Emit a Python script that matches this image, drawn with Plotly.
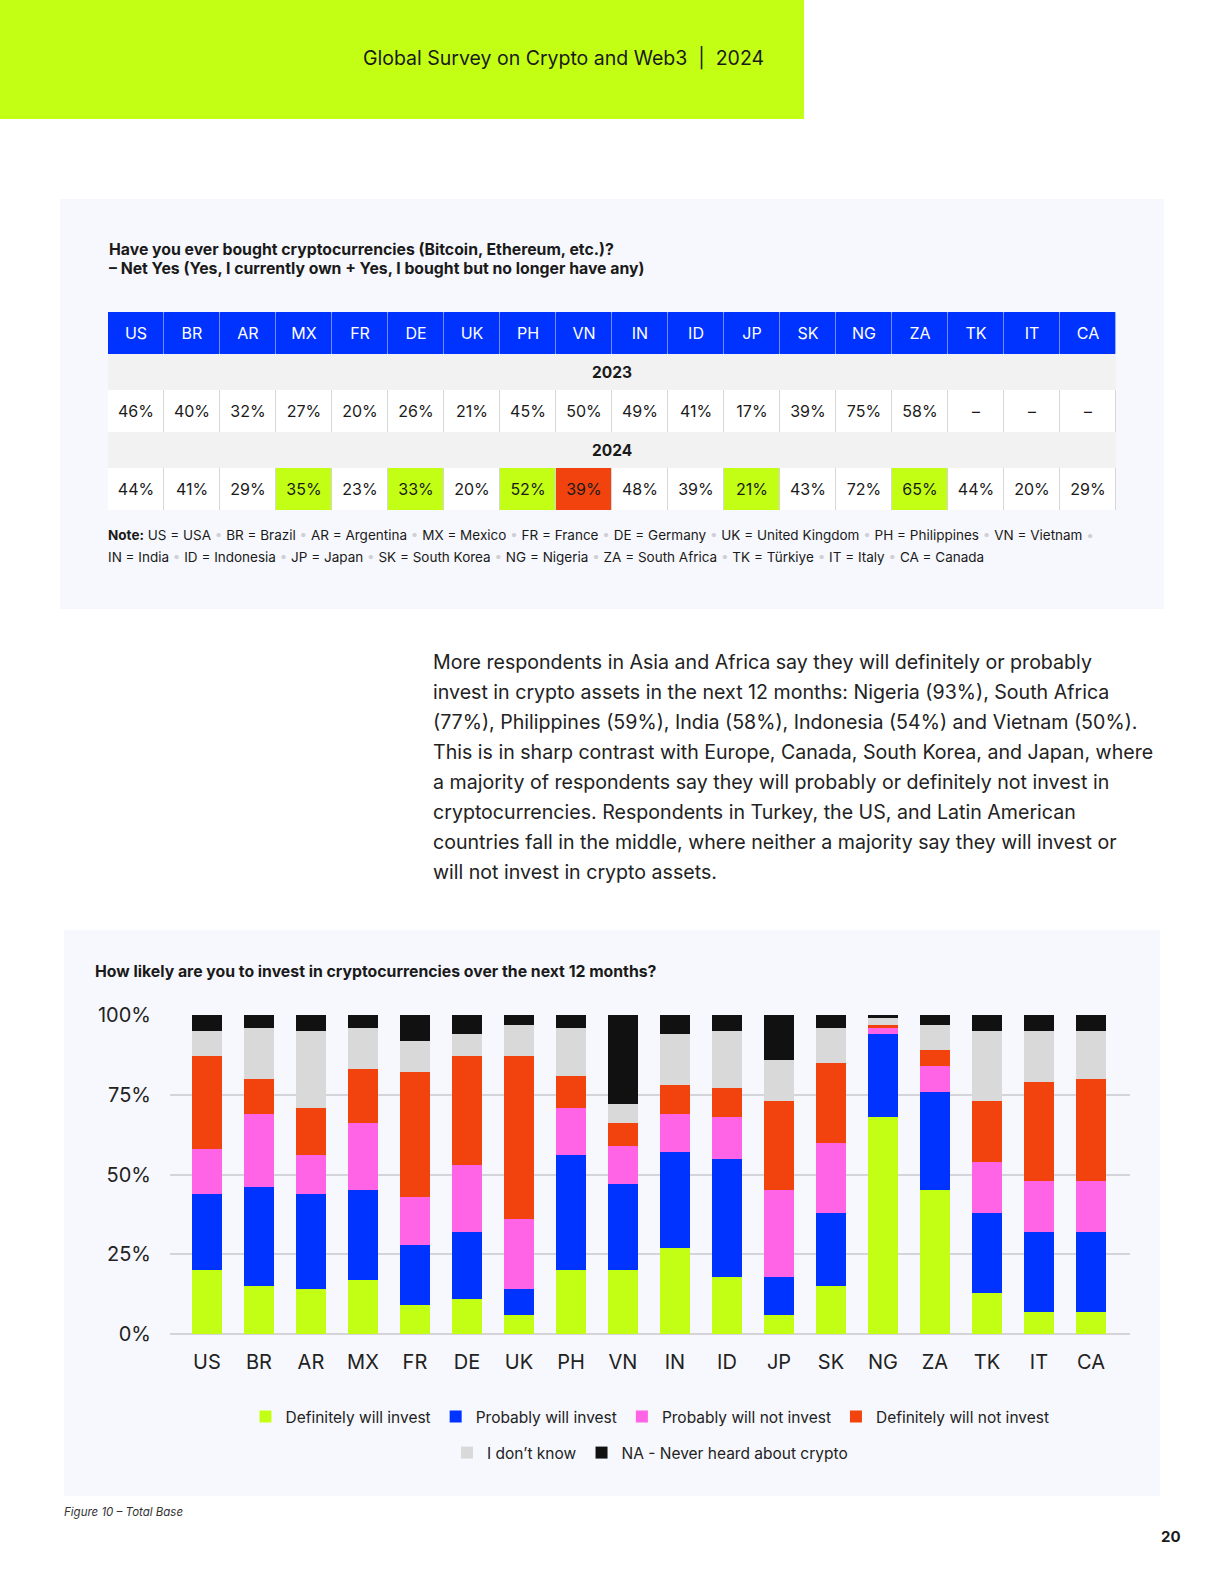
import plotly.graph_objects as go

# ─── DATA ─────────────────────────────────────────────
countries = ["US", "BR", "AR", "MX", "FR", "DE", "UK", "PH", "VN",
             "IN", "ID", "JP", "SK", "NG", "ZA", "TK", "IT", "CA"]

# Net Yes: ever bought crypto (%)
net_yes_2023 = [46, 40, 32, 27, 20, 26, 21, 45, 50, 49, 41, 17, 39, 75, 58, None, None, None]
net_yes_2024 = [44, 41, 29, 35, 23, 33, 20, 52, 39, 48, 39, 21, 43, 72, 65, 44, 20, 29]
# significant change vs 2023: 1 = up, -1 = down, 0 = none
change_2024 = [0, 0, 0, 1, 0, 1, 0, 1, -1, 0, 0, 1, 0, 0, 1, 0, 0, 0]

# likelihood to invest in next 12 months (%)
definitely_invest = [20, 15, 14, 17, 9, 11, 6, 20, 20, 27, 18, 6, 15, 68, 45, 13, 7, 7]
probably_invest = [24, 31, 30, 28, 19, 21, 8, 36, 27, 30, 37, 12, 23, 26, 31, 25, 25, 25]
probably_not = [14, 23, 12, 21, 15, 21, 22, 15, 12, 12, 13, 27, 22, 2, 8, 16, 16, 16]
definitely_not = [29, 11, 15, 17, 39, 34, 51, 10, 7, 9, 9, 28, 25, 1, 5, 19, 31, 32]
dont_know = [8, 16, 24, 13, 10, 7, 10, 15, 6, 16, 18, 13, 11, 2, 8, 22, 16, 15]
never_heard = [5, 4, 5, 4, 8, 6, 3, 4, 28, 6, 5, 14, 4, 1, 3, 5, 5, 5]

series_names = ["Definitely will invest", "Probably will invest", "Probably will not invest",
                "Definitely will not invest", "I don’t know", "NA - Never heard about crypto"]

y_ticks = [0, 25, 50, 75, 100]

country_names = ["US = USA", "BR = Brazil", "AR = Argentina", "MX = Mexico", "FR = France",
                 "DE = Germany", "UK = United Kingdom", "PH = Philippines", "VN = Vietnam",
                 "IN = India", "ID = Indonesia", "JP = Japan", "SK = South Korea", "NG = Nigeria",
                 "ZA = South Africa", "TK = Türkiye", "IT = Italy", "CA = Canada"]

paragraph = [
    "More respondents in Asia and Africa say they will definitely or probably",
    "invest in crypto assets in the next 12 months: Nigeria (93%), South Africa",
    "(77%), Philippines (59%), India (58%), Indonesia (54%) and Vietnam (50%).",
    "This is in sharp contrast with Europe, Canada, South Korea, and Japan, where",
    "a majority of respondents say they will probably or definitely not invest in",
    "cryptocurrencies. Respondents in Turkey, the US, and Latin American",
    "countries fall in the middle, where neither a majority say they will invest or",
    "will not invest in crypto assets.",
]

# ─── STYLE ────────────────────────────────────────────
W, H = 1224, 1584
FONT = "Inter"
INK = "#1a1a1a"
LIME = "#c3ff14"
BLUE = "#0033ff"
PINK = "#ff63e6"
ORANGE = "#f2430f"
LGRAY = "#d9d9d9"
BLACK = "#111111"
PANEL = "#f7f8fd"
SERIES_COLORS = [LIME, BLUE, PINK, ORANGE, LGRAY, BLACK]


def px(x):
    return x / W


def py(y):
    return 1 - y / H


fig = go.Figure()

# ─── TABLE (heatmaps on x2/y2) ────────────────────────
# rows top-down: header, 2023 label, 2023 values, 2024 label, 2024 values
fig.add_trace(go.Heatmap(
    x=list(range(len(countries))), y=[0, 42], z=[[0] * len(countries)],
    colorscale=[[0, BLUE], [1, BLUE]], showscale=False, xgap=1,
    text=[countries], texttemplate="%{text}",
    textfont=dict(family=FONT, size=16, color="white"),
    hoverinfo="skip", xaxis="x2", yaxis="y2",
))
fig.add_trace(go.Heatmap(
    x=[-0.5, len(countries) - 0.5], y=[42, 78, 120, 156], z=[[1], [None], [1]],
    colorscale=[[0, "#f2f2f2"], [1, "#f2f2f2"]], showscale=False,
    hoverinfo="skip", xaxis="x2", yaxis="y2",
))
fig.add_trace(go.Heatmap(
    x=list(range(len(countries))), y=[78, 120], z=[[0] * len(countries)],
    colorscale=[[0, "white"], [1, "white"]], showscale=False, xgap=1,
    text=[[f"{v}%" if v is not None else "–" for v in net_yes_2023]],
    texttemplate="%{text}", textfont=dict(family=FONT, size=16, color=INK),
    hoverinfo="skip", xaxis="x2", yaxis="y2",
))
fig.add_trace(go.Heatmap(
    x=list(range(len(countries))), y=[156, 198], z=[change_2024],
    zmin=-1, zmax=1,
    colorscale=[[0, ORANGE], [0.333, ORANGE], [0.333, "white"], [0.667, "white"],
                [0.667, LIME], [1, LIME]],
    showscale=False, xgap=1,
    text=[[f"{v}%" for v in net_yes_2024]],
    texttemplate="%{text}", textfont=dict(family=FONT, size=16, color=INK),
    hoverinfo="skip", xaxis="x2", yaxis="y2",
))

# ─── STACKED BARS ─────────────────────────────────────
series = [definitely_invest, probably_invest, probably_not, definitely_not, dont_know, never_heard]
for i, (name, vals, col) in enumerate(zip(series_names, series, SERIES_COLORS)):
    fig.add_trace(go.Bar(
        x=countries, y=vals, name=name, marker=dict(color=col, line=dict(width=0)),
        legend="legend" if i < 4 else "legend2", hoverinfo="x+y+name",
    ))

# ─── SHAPES ───────────────────────────────────────────
shapes = [
    dict(type="rect", xref="paper", yref="paper", x0=px(0), x1=px(804), y0=py(119), y1=py(0),
         fillcolor=LIME, line_width=0, layer="below"),
    dict(type="rect", xref="paper", yref="paper", x0=px(60), x1=px(1164), y0=py(609), y1=py(199),
         fillcolor=PANEL, line_width=0, layer="below"),
    dict(type="rect", xref="paper", yref="paper", x0=px(64), x1=px(1160), y0=py(1496), y1=py(930),
         fillcolor=PANEL, line_width=0, layer="below"),
    # table grid backgrounds (show through heatmap gaps)
    dict(type="rect", xref="x2", yref="y2", x0=-0.5, x1=17.5, y0=42, y1=198,
         fillcolor="#d6d6d6", line=dict(color="#d6d6d6", width=1), layer="below"),
    dict(type="rect", xref="x2", yref="y2", x0=-0.5, x1=17.5, y0=0, y1=42,
         fillcolor="#6f8bff", line=dict(color="#c9d3ff", width=1), layer="below"),
]

# ─── TEXT ─────────────────────────────────────────────
dot = "<span style='color:#cfcfd4'> • </span>"
notes1 = "<b>Note:</b> " + dot.join(country_names[:9]) + dot
notes2 = dot.join(country_names[9:])


def txt(x, y, s, size, bold=False, color=INK, anchor="left", italic=False):
    if bold:
        s = f"<b>{s}</b>"
    if italic:
        s = f"<i>{s}</i>"
    return dict(xref="paper", yref="paper", x=px(x), y=py(y), text=s, showarrow=False,
                xanchor=anchor, yanchor="middle", align=anchor,
                font=dict(family=FONT, size=size, color=color))


annotations = [
    txt(766, 58, "Global Survey on Crypto and Web3 &nbsp;|&nbsp; 2024", 19.5, anchor="right"),
    txt(107, 249, "Have you ever bought cryptocurrencies (Bitcoin, Ethereum, etc.)?", 15.8, bold=True),
    txt(107, 269, "– Net Yes (Yes, I currently own + Yes, I bought but no longer have any)", 15.8, bold=True),
    dict(xref="x2", yref="y2", x=8.5, y=60, text="<b>2023</b>", showarrow=False,
         font=dict(family=FONT, size=15.5, color=INK)),
    dict(xref="x2", yref="y2", x=8.5, y=138, text="<b>2024</b>", showarrow=False,
         font=dict(family=FONT, size=15.5, color=INK)),
    txt(106, 535, notes1, 13.5),
    txt(106, 557, notes2, 13.5),
    txt(93, 971, "How likely are you to invest in cryptocurrencies over the next 12 months?", 15.8, bold=True),
    txt(62, 1512, "Figure 10 – Total Base", 11.5, italic=True, color="#333333"),
    txt(1183, 1536, "20", 15, bold=True, anchor="right"),
]
for k, line in enumerate(paragraph):
    annotations.append(txt(431, 662 + 30 * k, line, 19.6, color="#222222"))

# ─── LAYOUT ───────────────────────────────────────────
fig.update_layout(
    width=W, height=H, margin=dict(l=0, r=0, t=0, b=0, autoexpand=False),
    paper_bgcolor="white", plot_bgcolor="rgba(0,0,0,0)",
    font=dict(family=FONT, color=INK),
    barmode="stack", bargap=0.42,
    xaxis=dict(domain=[px(170), px(1130)], anchor="y", range=[-0.71, 17.75],
               showgrid=False, zeroline=False, showline=False, ticks="", automargin=False,
               tickfont=dict(size=20, color="#222222"), ticklabelstandoff=14, fixedrange=True),
    yaxis=dict(domain=[py(1334), py(1015)], anchor="x", range=[0, 100],
               tickmode="array", tickvals=y_ticks, ticktext=[f"{v}%" for v in y_ticks],
               showgrid=True, gridcolor="#d4d4d9", gridwidth=2,
               zeroline=True, zerolinecolor="#d4d4d9", zerolinewidth=2, automargin=False,
               showline=False, ticks="", tickfont=dict(size=20, color="#222222"),
               ticklabelstandoff=18, fixedrange=True),
    xaxis2=dict(domain=[px(108), px(1116)], anchor="y2", range=[-0.5, 17.5],
                visible=False, fixedrange=True, automargin=False),
    yaxis2=dict(domain=[py(510), py(312)], anchor="x2", range=[198, 0],
                visible=False, fixedrange=True, automargin=False),
    legend=dict(orientation="h", x=px(650), xanchor="center", y=py(1417), yanchor="middle",
                bgcolor="rgba(0,0,0,0)", font=dict(size=15.5, color="#222222"),
                itemclick=False, itemdoubleclick=False, traceorder="normal"),
    legend2=dict(orientation="h", x=px(650), xanchor="center", y=py(1453), yanchor="middle",
                 bgcolor="rgba(0,0,0,0)", font=dict(size=15.5, color="#222222"),
                 itemclick=False, itemdoubleclick=False, traceorder="normal"),
    shapes=shapes,
    annotations=annotations,
    showlegend=True,
)

fig.write_html("out.html", config={"displayModeBar": False},
               post_script="document.body.style.margin = '0';")
